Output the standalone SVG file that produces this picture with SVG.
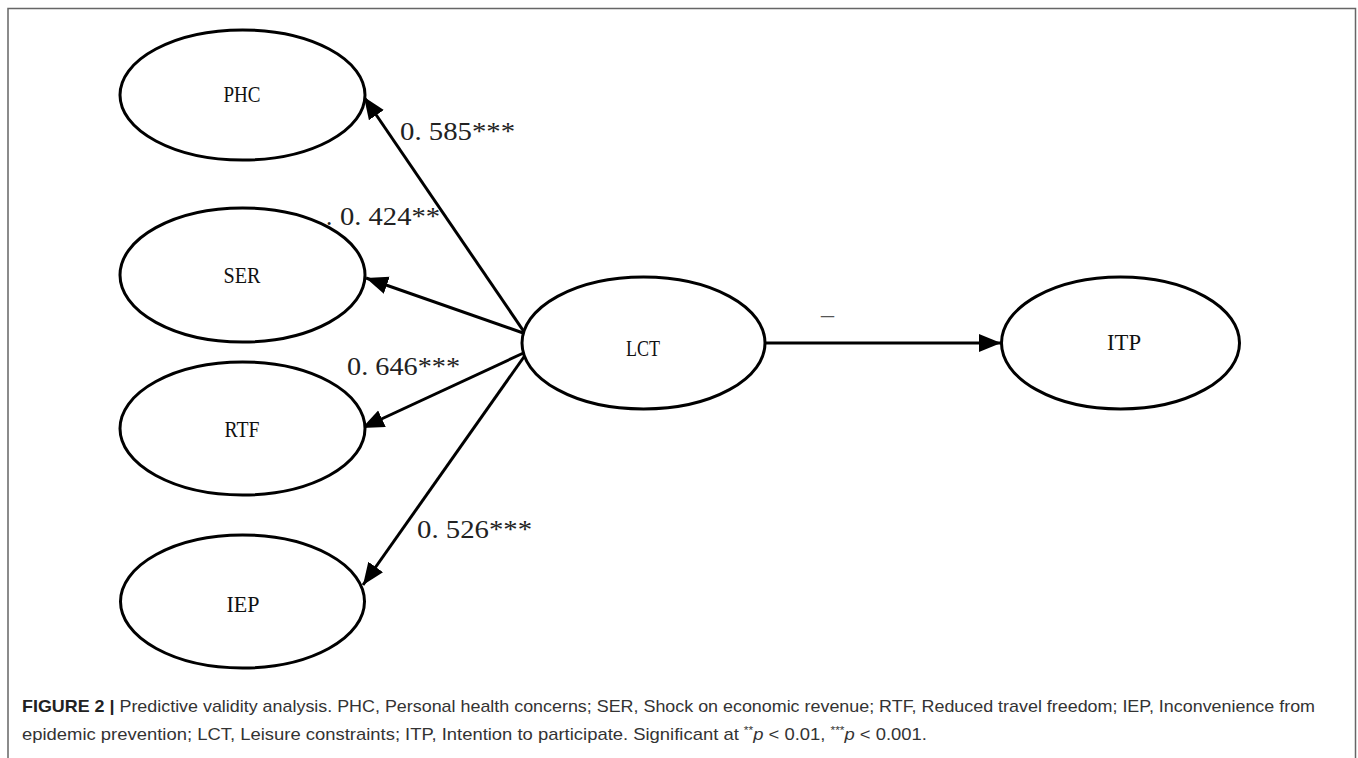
<svg xmlns="http://www.w3.org/2000/svg" width="1358" height="758" viewBox="0 0 1358 758">
<defs>
<style>
.node ellipse{fill:#fff;stroke:#000;stroke-width:3}
.node text{font-family:"Liberation Serif",serif;font-size:23px;fill:#111;text-anchor:middle}
.edge line{stroke:#000;stroke-width:3}
.lbl{font-family:"Liberation Serif",serif;font-size:25px;fill:#222}
.cap{font-family:"Liberation Sans",Arial,sans-serif;font-size:17px;fill:#333}
</style>
<marker id="ah" markerUnits="userSpaceOnUse" markerWidth="24" markerHeight="20" refX="22" refY="9" orient="auto">
<path d="M0,0 L22,9 L0,18 z" fill="#000"/>
</marker>
</defs>
<rect width="1358" height="758" fill="#fff"/>
<path d="M8,760 V8.5 H1355.5 V760" fill="none" stroke="#666" stroke-width="1.5"/>

<g id="connectors" class="edge">
<line x1="531" y1="342" x2="364" y2="97" marker-end="url(#ah)"/>
<line x1="526" y1="334" x2="366" y2="278" marker-end="url(#ah)"/>
<line x1="530" y1="350" x2="362" y2="428" marker-end="url(#ah)"/>
<line x1="526" y1="354" x2="363" y2="585" marker-end="url(#ah)"/>
<line x1="766" y1="343" x2="1001" y2="343" marker-end="url(#ah)"/>
</g>

<g id="node-PHC" class="node"><ellipse cx="242.5" cy="95" rx="122.5" ry="65"/><text x="242" y="102" textLength="37" lengthAdjust="spacingAndGlyphs">PHC</text></g>
<g id="node-SER" class="node"><ellipse cx="242.5" cy="275" rx="122.5" ry="67"/><text x="242" y="283" textLength="37" lengthAdjust="spacingAndGlyphs">SER</text></g>
<g id="node-RTF" class="node"><ellipse cx="242.5" cy="428.5" rx="122.5" ry="66.5"/><text x="242" y="437" textLength="35" lengthAdjust="spacingAndGlyphs">RTF</text></g>
<g id="node-IEP" class="node"><ellipse cx="242.5" cy="601.5" rx="122" ry="66.5"/><text x="243" y="612" textLength="33" lengthAdjust="spacingAndGlyphs">IEP</text></g>
<g id="node-LCT" class="node"><ellipse cx="643.5" cy="343" rx="121.5" ry="66"/><text x="643" y="356" textLength="34" lengthAdjust="spacingAndGlyphs">LCT</text></g>
<g id="node-ITP" class="node"><ellipse cx="1120.5" cy="343" rx="119" ry="66"/><text x="1124" y="350" textLength="34" lengthAdjust="spacingAndGlyphs">ITP</text></g>

<g id="edge-labels">
<text class="lbl" x="400" y="140" textLength="115" lengthAdjust="spacingAndGlyphs">0. 585***</text>
<text class="lbl" x="326" y="225">.</text>
<text class="lbl" x="340" y="225" textLength="100" lengthAdjust="spacingAndGlyphs">0. 424**</text>
<text class="lbl" x="347" y="375" textLength="113" lengthAdjust="spacingAndGlyphs">0. 646***</text>
<text class="lbl" x="417" y="538" textLength="115" lengthAdjust="spacingAndGlyphs">0. 526***</text>
<text x="821" y="314" font-family="Liberation Serif,serif" font-size="26" fill="#555" textLength="13" lengthAdjust="spacingAndGlyphs">_</text>
</g>

<g id="caption" class="cap">
<text x="22" y="712" textLength="1293" lengthAdjust="spacingAndGlyphs"><tspan font-weight="bold" fill="#222">FIGURE 2 |</tspan> Predictive validity analysis. PHC, Personal health concerns; SER, Shock on economic revenue; RTF, Reduced travel freedom; IEP, Inconvenience from</text>
<text x="22" y="740" textLength="905" lengthAdjust="spacingAndGlyphs">epidemic prevention; LCT, Leisure constraints; ITP, Intention to participate. Significant at <tspan font-size="11" dy="-6">**</tspan><tspan font-style="italic" dy="6">p</tspan> &lt; 0.01, <tspan font-size="11" dy="-6">***</tspan><tspan font-style="italic" dy="6">p</tspan> &lt; 0.001.</text>
</g>
</svg>
